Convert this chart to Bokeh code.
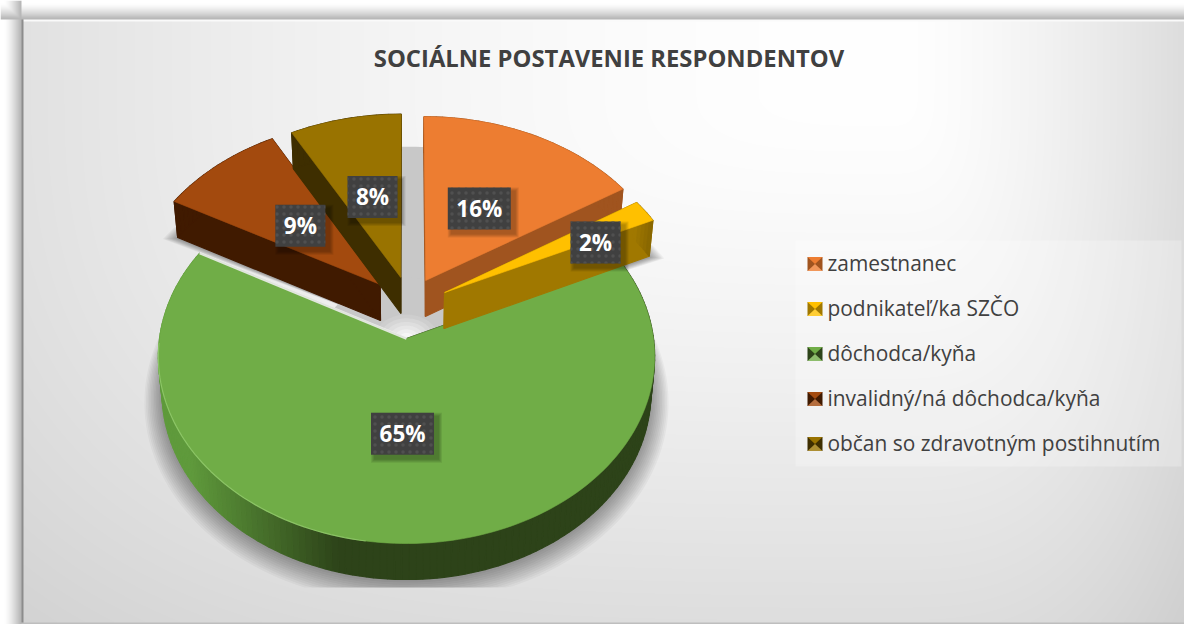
import numpy as np
from bokeh.plotting import figure
from bokeh.models import Range1d
from bokeh.core.properties import value
from bokeh.embed import file_html
from bokeh.resources import INLINE

# data
title = "SOCIÁLNE POSTAVENIE RESPONDENTOV"
categories = ["zamestnanec", "podnikateľ/ka SZČO", "dôchodca/kyňa",
              "invalidný/ná dôchodca/kyňa", "občan so zdravotným postihnutím"]
values_pct = [16, 2, 65, 9, 8]
top_colors = ["#ed7d31", "#ffc000", "#70ad47", "#a34a0e", "#997300"]
side_colors = ["#a0541f", "#a07800", "#2d4319", "#401a00", "#3e2e00"]
# explosion of each slice on the pie's plane, and its radius
explode_u = [0.08, 0.158, 0.0, -0.11, -0.024]
explode_v = [0.3226, 0.254, 0.0, 0.30, 0.34]
radius = [1.03, 1.0, 1.0, 1.03, 1.03]
label_r = [0.49, 0.71, 0.49, 0.49, 0.50]
label_turn = [0, 4.6, 0, 0, 0]

W, H = 1184, 624
CX, CY, A, B, K, DEPTH, BOT = 406.0, 338.0, 247.0, 185.3, 0.0962, 36.0, 0.985


def project(u, v):
    s = 1.0 / (1.0 + K * np.asarray(v, float))
    return CX + A * np.asarray(u, float) * s, CY - B * np.asarray(v, float) * s


def down(px, py):
    return CX + (np.asarray(px) - CX) * BOT, np.asarray(py) + DEPTH


p = figure(width=W, height=H, x_range=Range1d(0, W), y_range=Range1d(-H, 0),
           output_backend="svg", toolbar_location=None, min_border=0,
           x_axis_location=None, y_axis_location=None, outline_line_color=None,
           background_fill_color="#ffffff", border_fill_color="#ffffff")
p.grid.visible = False

# background card, frame and its soft shadow
xx, yy = np.meshgrid(np.arange(0, W) + 0.5, np.arange(H, 0, -1) - 0.5)
dx = xx - 890
dy = np.clip(yy - 90, 0, None)
drop_x = np.where(dx > 0, 35 * (np.abs(dx) / 300) ** 1.5, 29 * (np.abs(dx) / 860) ** 1.8)
drop_y = 33 * (dy / 530) ** 1.3
g = 255 - np.hypot(drop_x, drop_y)
left = np.clip((xx - 4) / 16, 0, 1)
topb = np.clip((yy - 3) / 15, 0, 1)
outer = 255 - 72 * left ** 1.4
outer2 = 255 - 72 * topb ** 1.4
g = np.where(xx < 21, np.minimum(outer, np.where(yy < 19, outer2, 255)), g)
g = np.where((yy < 19) & (xx >= 21), outer2, g)
g = np.where((xx >= 21) & (xx < 23) & (yy >= 19), 140, g)
g = np.where((yy >= 19) & (yy < 21) & (xx >= 23), 250, g)
g = np.where((yy >= 622) & (xx >= 21), 190, g)
g8 = np.clip(g, 0, 255).astype(np.uint32)
img = (255 << 24) | (g8 << 16) | (g8 << 8) | g8
p.image_rgba(image=[img], x=0, y=-H, dw=W, dh=H)

# slice outlines from the values
frac = np.array(values_pct, float) / sum(values_pct)
edges = np.concatenate([[0.0], np.cumsum(frac)]) * 2 * np.pi
slices = []
for i in range(len(values_pct)):
    n = max(6, int(frac[i] * 240))
    th = np.linspace(edges[i], edges[i + 1], n)
    slices.append(dict(
        th=th,
        ou=explode_u[i], ov=explode_v[i], r=radius[i],
        au=explode_u[i] + radius[i] * np.sin(th),
        av=explode_v[i] + radius[i] * np.cos(th),
    ))

# soft shadows
for i, s in enumerate(slices):
    for k in range(12):
        grow = 1.0 + 0.0065 * k if i == 2 else 1.0 + 0.007 * k
        au = s["ou"] + s["r"] * grow * np.sin(s["th"])
        av = s["ov"] + s["r"] * grow * np.cos(s["th"])
        ax, ay = project(au, av)
        bx, by = down(ax, ay)
        by = np.minimum(by + 1.0 + k * 0.6, 587)
        ox, oy = project(s["ou"], s["ov"])
        p.patch(list(np.r_[ox, bx]), list(-np.r_[oy + DEPTH, by]), fill_color="#000000",
                fill_alpha=0.034, line_color=None)

# the pale wall seen through the gap between the slices
th = np.linspace(np.radians(340), np.radians(380), 30)
wx, wy = project(1.15 * np.sin(th), 1.15 * np.cos(th))
ox, oy = project(0, 0)
p.patch(list(np.r_[ox, wx]), list(-np.r_[oy, wy]), fill_color="#c8c8c8", line_color=None)
th = np.linspace(edges[3], edges[2] + 2 * np.pi, 40)
for r, c in [(0.34, "#c8c8c8"), (0.13, "#cecece"), (0.11, "#d6d6d6"), (0.09, "#dedede"),
             (0.07, "#e6e6e6"), (0.05, "#eeeeee"), (0.03, "#f6f6f6")]:
    wx, wy = project(r * np.sin(th), r * np.cos(th))
    p.patch(list(np.r_[ox, wx]), list(-np.r_[oy, wy]), fill_color=c, line_color=None)


def hexmix(a, b, t):
    ca = np.array([int(a[j:j + 2], 16) for j in (1, 3, 5)], float)
    cb = np.array([int(b[j:j + 2], 16) for j in (1, 3, 5)], float)
    c = ca + (cb - ca) * t
    return "#%02x%02x%02x" % tuple(int(round(v)) for v in c)


# slices, back ones first
for i in [2, 0, 1, 3, 4]:
    s = slices[i]
    ox, oy = project(s["ou"], s["ov"])
    ax, ay = project(s["au"], s["av"])
    bx, by = down(ax, ay)
    obx, oby = down(ox, oy)
    xs, ys, cols = [], [], []
    for e in (0, -1):
        xs.append([float(ox), float(ax[e]), float(bx[e]), float(obx)])
        ys.append([-float(oy), -float(ay[e]), -float(by[e]), -float(oby)])
        cols.append(side_colors[i])
    for j in range(len(ax) - 1):
        xs.append([ax[j], ax[j + 1], bx[j + 1], bx[j]])
        ys.append([-ay[j], -ay[j + 1], -by[j + 1], -by[j]])
        if i == 2:
            t = float(np.clip((ax[j] - 190) / 150, 0, 1))
            cols.append(hexmix("#5f9a3c", side_colors[2], t))
        elif i == 1:
            cols.append(hexmix(side_colors[1], "#8a6800", j / max(1, len(ax) - 2)))
        else:
            cols.append(side_colors[i])
    p.patches(xs, ys, fill_color=cols, line_color=cols, line_width=1.2)
    p.patch(list(np.r_[ox, ax]), list(-np.r_[oy, ay]), fill_color=top_colors[i],
            line_color=top_colors[i], line_width=0.6)
    if i == 2:
        # pale band along the green slice's cut edge, lit rim on its front left
        p.line([float(ox), float(ax[-1])], [-float(oy), -float(ay[-1])],
               line_color="#ededed", line_width=2.5, line_alpha=0.9)
        mask = (ax < 370) & (ay > 340)
        p.line(ax[mask], -ay[mask], line_color="#93cc6e", line_width=1.2, line_alpha=0.8)

# data labels
for i, v in enumerate(values_pct):
    mid = 0.5 * (edges[i] + edges[i + 1]) + np.radians(label_turn[i])
    lx, ly = project(explode_u[i] + label_r[i] * np.sin(mid), explode_v[i] + label_r[i] * np.cos(mid))
    txt = f"{v}%"
    hw = 31.5 if len(txt) == 3 else 25
    for k in range(4):
        grow = 4 - k
        p.quad(left=lx - hw + 4 - grow, right=lx + hw + 4 + grow, top=-(ly - 21 + 4 - grow),
               bottom=-(ly + 21 + 4 + grow), fill_color="#000000", fill_alpha=0.08, line_color=None)
    p.quad(left=lx - hw, right=lx + hw, top=-(ly - 21), bottom=-(ly + 21), fill_color="#404040",
           line_color=None, hatch_pattern="dot", hatch_color="#505050", hatch_scale=7, hatch_weight=1)
    p.text([float(lx)], [-float(ly)], text=[txt], text_font=value("Open Sans"), text_font_style="bold",
           text_font_size="22.5px", text_color="#ffffff", text_align="center", text_baseline="middle")

# title
p.text([608.5], [-57], text=[title], text_font=value("Open Sans"), text_font_style="bold",
       text_font_size="23.8px", text_color="#404040", text_align="center", text_baseline="middle")

# legend
p.quad(left=795, right=1181, top=-240, bottom=-466, fill_color="#ffffff", fill_alpha=0.25, line_color=None)
for i, name in enumerate(categories):
    yc = 263.5 + 45 * i
    x0, x1, y0, y1 = 807, 822, yc - 7, yc + 7
    xm, ym = (x0 + x1) / 2, yc
    tc, sc = top_colors[i], side_colors[i]
    p.patches([[x0, x1, x1, x0]], [[-y0, -y0, -y1, -y1]], fill_color=sc, line_color=None)
    p.patches([[x0, x1, xm], [x0, x1, xm]], [[-y0, -y0, -ym], [-y1, -y1, -ym]],
              fill_color=[tc, hexmix(tc, "#ffffff", 0.2)], line_color=None)
    p.text([827], [-(yc - 1.5)], text=[name], text_font=value("Open Sans"), text_font_size="20.9px",
           text_color="#404040", text_align="left", text_baseline="middle")

open("out.html", "w").write(file_html(p, INLINE))
